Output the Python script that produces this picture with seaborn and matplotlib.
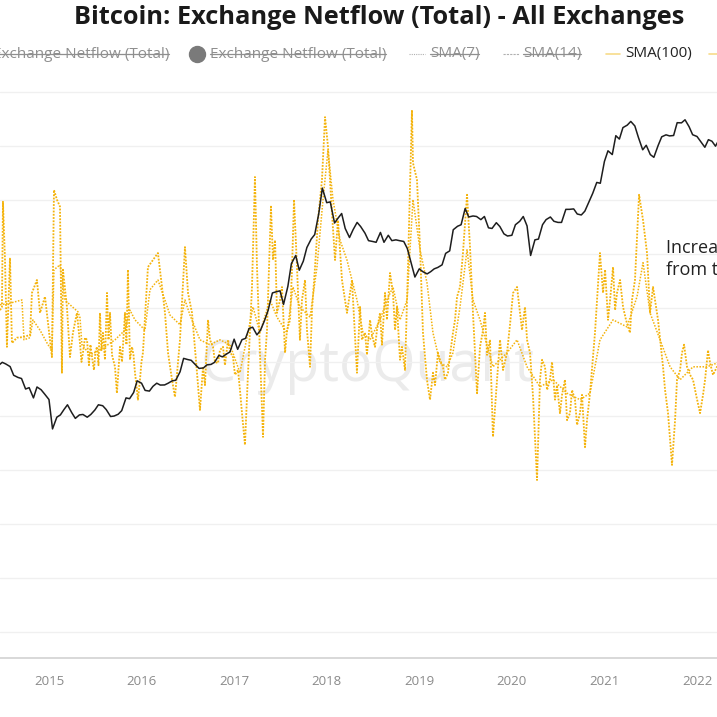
import pandas as pd
import matplotlib.pyplot as plt
import seaborn as sns
from matplotlib.lines import Line2D

## exchange netflow (thousand BTC) - x in decimal years
## fast, noisy trace
flow_year = [2014.471, 2014.492, 2014.503, 2014.525, 2014.546, 2014.579, 2014.600, 2014.654, 2014.719, 2014.795,
             2014.816, 2014.870, 2014.903, 2014.957, 2015.011, 2015.032, 2015.054, 2015.086, 2015.119, 2015.140,
             2015.151, 2015.194, 2015.227, 2015.259, 2015.302, 2015.335, 2015.351, 2015.367, 2015.389, 2015.411,
             2015.432, 2015.448, 2015.465, 2015.486, 2015.502, 2015.519, 2015.535, 2015.551, 2015.567, 2015.583,
             2015.605, 2015.627, 2015.643, 2015.659, 2015.681, 2015.713, 2015.734, 2015.751, 2015.767, 2015.789,
             2015.821, 2015.837, 2015.853, 2015.875, 2015.897, 2015.913, 2015.929, 2015.945, 2015.961, 2015.983,
             2015.999, 2016.015, 2016.069, 2016.123, 2016.177, 2016.221, 2016.253, 2016.286, 2016.329, 2016.361,
             2016.415, 2016.469, 2016.502, 2016.545, 2016.599, 2016.631, 2016.664, 2016.685, 2016.718, 2016.739,
             2016.772, 2016.793, 2016.826, 2016.847, 2016.880, 2016.901, 2016.934, 2016.955, 2016.988, 2017.009,
             2017.042, 2017.063, 2017.085, 2017.117, 2017.150, 2017.171, 2017.193, 2017.225, 2017.247, 2017.279,
             2017.312, 2017.334, 2017.355, 2017.398, 2017.420, 2017.442, 2017.463, 2017.496, 2017.517, 2017.550,
             2017.571, 2017.604, 2017.625, 2017.647, 2017.679, 2017.711, 2017.733, 2017.766, 2017.787, 2017.820,
             2017.841, 2017.874, 2017.906, 2017.949, 2017.982, 2018.014, 2018.057, 2018.090, 2018.122, 2018.165,
             2018.219, 2018.273, 2018.327, 2018.360, 2018.381, 2018.414, 2018.435, 2018.468, 2018.489, 2018.522,
             2018.543, 2018.576, 2018.597, 2018.630, 2018.651, 2018.684, 2018.716, 2018.738, 2018.759, 2018.792,
             2018.813, 2018.846, 2018.878, 2018.921, 2018.932, 2018.975, 2019.008, 2019.040, 2019.083, 2019.116,
             2019.148, 2019.170, 2019.202, 2019.224, 2019.256, 2019.278, 2019.310, 2019.332, 2019.364, 2019.386,
             2019.408, 2019.440, 2019.472, 2019.516, 2019.548, 2019.580, 2019.624, 2019.656, 2019.689, 2019.710,
             2019.732, 2019.764, 2019.796, 2019.840, 2019.872, 2019.905, 2019.948, 2019.980, 2020.013, 2020.056,
             2020.088, 2020.110, 2020.142, 2020.164, 2020.196, 2020.229, 2020.272, 2020.304, 2020.326, 2020.358,
             2020.380, 2020.412, 2020.434, 2020.466, 2020.488, 2020.520, 2020.542, 2020.574, 2020.596, 2020.628,
             2020.650, 2020.682, 2020.704, 2020.736, 2020.758, 2020.790, 2020.812, 2020.844, 2020.898, 2020.952,
             2020.985, 2021.007, 2021.039, 2021.061, 2021.093, 2021.115, 2021.136, 2021.169, 2021.201, 2021.233,
             2021.276, 2021.298, 2021.330, 2021.374, 2021.417, 2021.460, 2021.493, 2021.525, 2021.579, 2021.633,
             2021.655, 2021.687, 2021.730, 2021.763, 2021.784, 2021.817, 2021.838, 2021.860, 2021.892, 2021.925,
             2021.957, 2021.990, 2022.033, 2022.065, 2022.087, 2022.119, 2022.141, 2022.173, 2022.216, 2022.250]
flow_k = [9.6, 10.2, 29.7, 18.9, 2.8, 19.3, 3.5, 4.5, 4.6, 5.0,
          12.8, 15.2, 9.1, 12.1, 4.1, 0.9, 31.9, 30.1, 28.8, -2.0,
          17.1, 10.2, 0.9, 5.4, 9.1, 3.5, 0.0, 1.7, 4.5, 4.1,
          -0.6, 3.2, 0.9, -1.5, 1.9, 2.8, -0.6, 9.1, 2.2, 5.4,
          0.4, 12.8, 4.1, 9.1, 1.3, -0.9, -5.8, -1.5, 2.8, 0.0,
          9.1, 3.2, 17.1, 0.4, 2.8, 1.3, -2.0, -4.3, -7.0, -3.3,
          0.0, 1.7, 17.6, 18.9, 20.2, 13.9, 9.1, 1.7, -3.3, -6.5,
          4.1, 21.3, 12.8, 9.1, -2.0, -8.9, -0.9, -4.3, 7.8, 4.1,
          2.8, 0.0, -0.2, 2.2, 2.8, -0.6, 4.1, 1.9, 0.9, -2.4,
          -1.5, -5.2, -9.5, -15.4, -2.0, 5.9, 13.9, 34.3, 17.6, 1.7,
          -13.9, 0.4, 5.9, 28.8, 18.9, 22.6, 9.1, 11.5, 13.9, 1.7,
          5.9, 7.8, 17.1, 30.1, 17.6, 4.1, 11.5, 15.2, 5.9, -0.9,
          9.6, 17.6, 26.3, 33.8, 45.4, 39.9, 27.6, 18.9, 26.3, 15.2,
          9.1, 15.2, -2.0, 10.2, 4.1, 5.4, 1.3, 7.8, 5.0, 2.8,
          5.9, 9.1, 3.2, 12.8, 7.8, 16.5, 12.8, 5.9, 10.2, 0.4,
          2.8, -1.5, 17.6, 46.7, 36.9, 33.8, 21.3, 5.4, -3.3, -7.0,
          -2.0, -4.3, 1.7, 0.4, -0.9, -3.3, -2.0, 1.3, 5.4, 7.8,
          12.1, 13.9, 20.2, 31.0, 21.3, 9.1, -5.8, 2.8, 5.9, 9.1,
          1.3, 4.1, -13.9, -3.3, 4.1, -1.5, 1.7, 6.9, 12.8, 13.9,
          9.1, 5.9, 10.2, 4.1, 1.7, -6.5, -21.9, -3.3, 0.4, -0.9,
          -5.2, -3.3, 0.0, -7.0, -4.3, -9.5, -6.1, -3.3, -10.8, -9.5,
          -5.2, -7.0, -11.7, -9.5, -6.1, -15.8, -10.8, -5.8, 5.4, 20.2,
          12.8, 17.1, 7.8, 11.5, 17.6, 9.6, 12.8, 15.2, 10.2, 7.8,
          5.4, 11.5, 15.2, 31.0, 26.3, 20.2, 9.1, 13.9, 7.8, -0.9,
          -5.2, -9.5, -19.1, -10.8, -3.3, -1.5, 1.7, 3.2, -0.9, -2.4,
          -3.3, -6.1, -9.5, -6.1, -3.3, 2.2, -0.2, -2.4, -0.9, 1.0]

## slower trace riding under / over the fast one
slow_year = [2014.471, 2014.579, 2014.708, 2014.730, 2014.795, 2014.827, 2014.903, 2014.989, 2015.032, 2015.054,
             2015.119, 2015.173, 2015.227, 2015.313, 2015.335, 2015.356, 2015.443, 2015.551, 2015.637, 2015.713,
             2015.821, 2015.875, 2015.929, 2016.037, 2016.091, 2016.177, 2016.253, 2016.307, 2016.415, 2016.469,
             2016.523, 2016.631, 2016.739, 2016.847, 2016.955, 2017.063, 2017.204, 2017.279, 2017.387, 2017.463,
             2017.571, 2017.636, 2017.711, 2017.820, 2017.895, 2017.960, 2018.014, 2018.068, 2018.144, 2018.219,
             2018.327, 2018.392, 2018.468, 2018.576, 2018.651, 2018.716, 2018.792, 2018.868, 2018.932, 2019.008,
             2019.083, 2019.148, 2019.224, 2019.300, 2019.364, 2019.440, 2019.516, 2019.580, 2019.656, 2019.796,
             2019.948, 2020.056, 2020.164, 2020.304, 2020.445, 2020.596, 2020.736, 2020.844, 2020.952, 2021.093,
             2021.244, 2021.352, 2021.417, 2021.493, 2021.601, 2021.709, 2021.817, 2021.957, 2022.108, 2022.216,
             2022.250]
slow_k = [10.6, 10.9, 11.5, 4.1, 4.5, 7.8, 5.9, 3.2, 2.2, 17.1,
          18.0, 11.5, 10.6, 9.3, 8.2, 3.2, 1.3, 2.2, 3.2, 4.1,
          5.9, 9.6, 7.8, 5.9, 13.4, 15.2, 11.5, 8.7, 6.9, 11.5,
          8.7, 4.1, 3.2, 4.1, 3.2, -2.0, 10.2, 5.4, 11.5, 8.3,
          5.4, 13.9, 10.2, 8.3, 17.6, 30.1, 39.3, 30.1, 22.6, 18.9,
          11.5, 5.4, 4.1, 7.8, 11.5, 13.9, 7.8, 11.5, 30.1, 20.8,
          14.7, 5.4, -0.2, -0.9, 1.7, 10.2, 20.8, 11.5, 7.8, -0.9,
          1.7, 4.1, -0.9, -4.6, -3.3, -5.8, -7.0, -5.8, 4.1, 7.8,
          6.5, 12.1, 18.4, 9.1, 4.1, -0.9, -3.3, -0.9, -0.9, -0.2,
          0.5]

## BTC price (USD), 1st and 15th of each month from June 2014
price_usd = [630, 600, 640, 620, 590, 500, 480, 470, 385, 395, 325, 400, 380, 350,
             315, 180, 225, 235, 260, 285, 245, 220, 235, 237, 225, 237,
             258, 285, 280, 260, 228, 230, 238, 255, 325, 320, 360, 450,
             430, 375, 370, 405, 430, 415, 416, 430, 450, 455, 535, 690,
             675, 665, 610, 570, 575, 610, 615, 640, 730, 710, 750, 780,
             995, 820, 985, 1010, 1220, 1250, 1080, 1180, 1420, 1720, 2400, 2450,
             2500, 1930, 2720, 4200, 4900, 3700, 4400, 5700, 6700, 7300, 10900, 17700,
             13400, 13600, 9100, 10000, 10900, 8200, 6900, 8000, 9200, 8500, 7500, 6500,
             6400, 6300, 7600, 6300, 7200, 6500, 6600, 6500, 6400, 5600, 4200, 3250,
             3800, 3600, 3450, 3600, 3800, 3900, 4100, 5100, 5350, 8000, 8550, 8800,
             12000, 10200, 10400, 10300, 9700, 10300, 8300, 8200, 9150, 8500, 7400, 7100,
             7200, 8800, 9400, 10300, 8600, 4900, 6600, 6700, 8800, 9700, 10200, 9400,
             9200, 9200, 11800, 11800, 11900, 10800, 10600, 11400, 13700, 16000, 19700, 19400,
             29400, 36000, 33500, 48000, 45000, 56000, 58700, 63000, 57800, 46500, 36700, 40000,
             33500, 31800, 39900, 47000, 48800, 47800, 48200, 61500, 61300, 65000, 57000, 48900,
             47300, 43100, 38500, 44500, 43200, 39300, 46000]
price_dates = pd.date_range('2014-06-01', periods=len(price_usd), freq='SMS')
price_year = price_dates.year + (price_dates.dayofyear - 1) / 365.25

year_ticks = [2015, 2016, 2017, 2018, 2019, 2020, 2021, 2022]
flow_grid = [-50, -40, -30, -20, -10, 0, 10, 20, 30, 40, 50]

title = 'Bitcoin: Exchange Netflow (Total) - All Exchanges'
legend_labels = ['Exchange Netflow (Total)', 'Exchange Netflow (Total)', 'SMA(7)', 'SMA(14)', 'SMA(100)']
note = 'Increased outflows\nfrom the exchanges'

YELLOW = '#F4B30C'
GRAY = '#8f8f8f'

sns.set_theme(style='white')
plt.rcParams['font.family'] = ['Open Sans', 'DejaVu Sans']

W = H = 717
def fx(px):
    return px / W
def fy(py):
    return 1 - py / H

fig = plt.figure(figsize=(7.17, 7.17), dpi=100)
ax = fig.add_axes([0, fy(658), 1, fy(88) - fy(658)])
ax2 = ax.twinx()

## netflow on the left axis, price (log) on the right axis
sns.lineplot(x=slow_year, y=slow_k, ax=ax, color=YELLOW, lw=1.1, ls=(0, (1, 1)))
sns.lineplot(x=flow_year, y=flow_k, ax=ax, color=YELLOW, lw=1.3, ls=(0, (1, 0.8)))
sns.lineplot(x=price_year, y=price_usd, ax=ax2, color='#1e1e1e', lw=1.1)

ax.set_xlim(2014.471, 2022.216)
ax.set_ylim(-54.9, 50.8)
ax2.set_yscale('log')
ax2.set_ylim(2.29, 119100)

ax.set_yticks(flow_grid)
ax.yaxis.grid(True, color='#f0f0f0', lw=1)
ax.set_xticks(year_ticks)
ax.set_xticklabels([str(y) for y in year_ticks])
ax.tick_params(axis='x', length=7, width=1, color='#d4d4d4', labelcolor='#8a8a8a', labelsize=9.5, pad=5)
ax.tick_params(axis='y', left=False, labelleft=False)
ax2.tick_params(axis='y', right=False, labelright=False, which='both')
ax2.set_yticks([])
ax2.minorticks_off()
for a in (ax, ax2):
    for s in ('top', 'left', 'right'):
        a.spines[s].set_visible(False)
    a.set_xlabel('')
    a.set_ylabel('')
ax.spines['bottom'].set_color('#d4d4d4')
ax2.spines['bottom'].set_visible(False)

## watermark
ax.text(fx(368), fy(367), 'CryptoQuant', transform=fig.transFigure, ha='center', va='center',
        fontsize=40, color='#ebebeb', zorder=0)

## annotation cut off by the right edge
fig.text(fx(666), fy(259), note, ha='left', va='center', fontsize=13, color='#222222', linespacing=1.35)

fig.text(fx(379), fy(18), title, ha='center', va='center', fontsize=18.3, weight='bold', color='#1a1a1a')

## legend row
ly = fy(54)
struck = []
struck.append(fig.text(fx(169), ly, legend_labels[0], ha='right', va='center', fontsize=11, color=GRAY))
fig.add_artist(Line2D([fx(197)], [ly], marker='o', ms=11.5, color='#7a7a7a', lw=0))
struck.append(fig.text(fx(210), ly, legend_labels[1], ha='left', va='center', fontsize=11, color=GRAY))
fig.add_artist(Line2D([fx(409), fx(425)], [ly, ly], color='#b0b0b0', lw=0.8, ls=(0, (1, 1))))
struck.append(fig.text(fx(430), ly, legend_labels[2], ha='left', va='center', fontsize=11, color=GRAY))
fig.add_artist(Line2D([fx(503), fx(519)], [ly, ly], color='#b0b0b0', lw=0.8, ls=(0, (2, 1))))
struck.append(fig.text(fx(523), ly, legend_labels[3], ha='left', va='center', fontsize=11, color=GRAY))
fig.add_artist(Line2D([fx(606), fx(620)], [ly, ly], color='#f7dc8a', lw=1.2))
fig.text(fx(625), ly, legend_labels[4], ha='left', va='center', fontsize=11, color='#222222')
fig.add_artist(Line2D([fx(709), fx(725)], [ly, ly], color='#f7dc8a', lw=1.2))

fig.canvas.draw()
r = fig.canvas.get_renderer()
for t in struck:
    bb = t.get_window_extent(r).transformed(fig.transFigure.inverted())
    ym = bb.y0 + (bb.y1 - bb.y0) * 0.5
    fig.add_artist(Line2D([bb.x0, bb.x1], [ym, ym], color=GRAY, lw=0.9))

fig.savefig('out.png', dpi=100)
